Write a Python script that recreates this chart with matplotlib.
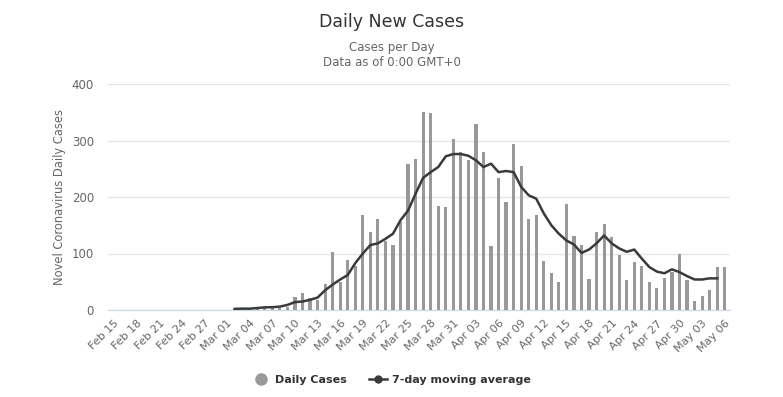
import matplotlib
matplotlib.use("Agg")
import matplotlib.pyplot as plt
from matplotlib.lines import Line2D
import numpy as np
import datetime as dt

start = dt.date(2020, 2, 15)
n_days = 82
dates = [start + dt.timedelta(days=i) for i in range(n_days)]
labels = [d.strftime("%b %d") for d in dates]

# Daily cases Feb 15 .. May 06 (Feb 15 - Mar 01 are zero)
daily_cases = [0]*16 + [
    2, 1, 2, 4, 3, 5, 3, 5,                 # Mar 02 - Mar 09
    23, 30, 21, 18, 46, 102, 49, 88, 78, 169,  # Mar 10 - Mar 19
    138, 161, 123, 115, 155, 258, 268, 351, 349, 184,  # Mar 20 - Mar 29
    182, 303, 279, 266, 330, 279, 113, 233, 192, 293,  # Mar 30 - Apr 08
    254, 161, 168, 86, 65, 49, 187, 131, 115, 55,      # Apr 09 - Apr 18
    138, 152, 130, 97, 53, 85, 78, 49, 39, 56,         # Apr 19 - Apr 28
    68, 100, 53, 16, 25, 35, 76, 76                    # Apr 29 - May 06
]

# 7-day moving average (Mar 02 .. May 05)
moving_avg = [None]*16 + [
    2, 2.4, 2.4, 3.5, 4.7, 5, 6, 9,
    14, 15, 18, 22, 35, 45, 54, 62, 83, 100,
    115, 118, 126, 135, 159, 176, 206, 234, 244, 253,
    272, 276, 276, 273, 265, 253, 259, 244, 246, 244,
    218, 203, 197, 171, 150, 135, 123, 116, 101, 107,
    118, 132, 118, 109, 103, 107, 91, 76, 68, 65,
    72, 67, 60, 54, 54, 56, 56, None
]

x = np.arange(n_days)
fig = plt.figure(figsize=(7.83, 3.97), dpi=100)
ax = fig.add_axes([108/783, 87/397, 622/783, 226/397])

ax.bar(x, daily_cases, width=0.42, color="#999999", zorder=2)
ma_x = [i for i, v in enumerate(moving_avg) if v is not None]
ma_y = [v for v in moving_avg if v is not None]
ax.plot(ma_x, ma_y, color="#3a3a3a", lw=1.8, zorder=3, solid_joinstyle="round")

ax.set_xlim(-0.8, 81.7)
ax.set_ylim(0, 400)
ax.set_yticks([0, 100, 200, 300, 400])
ax.grid(axis="y", color="#e6e6e6", lw=1, zorder=0)
ax.set_axisbelow(True)
for s in ["top", "right", "left"]:
    ax.spines[s].set_visible(False)
ax.spines["bottom"].set_color("#ccd6eb")
ax.spines["bottom"].set_zorder(1)

ax.set_xticks(x[::3])
ax.set_xticklabels(labels[::3], rotation=45, ha="right", rotation_mode="anchor",
                   fontsize=8, color="#666666")
ax.tick_params(axis="x", length=0, pad=6)
ax.tick_params(axis="y", length=0, labelsize=8.5, labelcolor="#666666", pad=10)
ax.set_ylabel("Novel Coronavirus Daily Cases", fontsize=8.3, color="#666666", labelpad=4)

fig.text(0.5, 1 - 22/397, "Daily New Cases", ha="center", va="center",
         fontsize=12.5, color="#333333")
fig.text(0.5, 1 - 47/397, "Cases per Day", ha="center", va="center",
         fontsize=8.5, color="#666666")
fig.text(0.5, 1 - 62/397, "Data as of 0:00 GMT+0", ha="center", va="center",
         fontsize=8.5, color="#666666")

handles = [
    Line2D([], [], marker="o", color="none", markerfacecolor="#999999",
           markeredgecolor="#999999", markersize=8),
    Line2D([], [], marker="o", color="#3a3a3a", lw=1.8, markersize=5),
]
leg = fig.legend(handles, ["Daily Cases", "7-day moving average"], loc="center",
                 bbox_to_anchor=(0.5, 1 - 380/397), ncol=2, frameon=False,
                 prop={"weight": "bold", "size": 8}, handlelength=1.6,
                 columnspacing=2.0, handletextpad=0.5)
for t in leg.get_texts():
    t.set_color("#333333")

fig.savefig("out.png", dpi=100, facecolor="white")
